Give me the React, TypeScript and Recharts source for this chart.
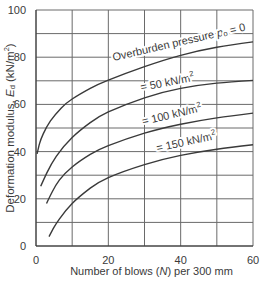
import React from "react";
import {
  LineChart,
  Line,
  XAxis,
  YAxis,
  CartesianGrid,
  ReferenceDot,
  Label,
} from "recharts";

type Pt = { n: number; e: number };

// Deformation modulus vs. blow count, one curve per overburden pressure
const curveP0: Pt[] = [
  { n: 0.3, e: 39 }, { n: 1, e: 43.5 }, { n: 2, e: 47.5 }, { n: 4, e: 53 },
  { n: 7, e: 58.5 }, { n: 10, e: 62.3 }, { n: 15, e: 66.8 }, { n: 20, e: 70.3 },
  { n: 30, e: 76 }, { n: 40, e: 80.8 }, { n: 50, e: 84.2 }, { n: 60, e: 86.5 },
];
const curveP50: Pt[] = [
  { n: 1.3, e: 25.3 }, { n: 3, e: 31 }, { n: 5.6, e: 38 }, { n: 10, e: 46 },
  { n: 15, e: 52.3 }, { n: 20, e: 56.8 }, { n: 30, e: 62.8 }, { n: 40, e: 66.8 },
  { n: 50, e: 69 }, { n: 60, e: 70.2 },
];
const curveP100: Pt[] = [
  { n: 2.9, e: 18 }, { n: 4.5, e: 23 }, { n: 6.5, e: 28 }, { n: 10, e: 33.5 },
  { n: 15, e: 38.8 }, { n: 20, e: 42.5 }, { n: 30, e: 47.8 }, { n: 40, e: 51.6 },
  { n: 50, e: 54.3 }, { n: 60, e: 56.3 },
];
const curveP150: Pt[] = [
  { n: 3.6, e: 4 }, { n: 5, e: 8 }, { n: 6.5, e: 11.5 }, { n: 10, e: 18 },
  { n: 15, e: 24.5 }, { n: 20, e: 29 }, { n: 30, e: 34.5 }, { n: 40, e: 38.4 },
  { n: 50, e: 41 }, { n: 60, e: 42.9 },
];

const xTicks = [0, 10, 20, 30, 40, 50, 60];
const yTicks = [0, 10, 20, 30, 40, 50, 60, 70, 80, 90, 100];

// curve captions: anchor (n, e), rotation, and which text
const captions = [
  { n: 39.5, e: 86.5, angle: -13, kind: "p0" },
  { n: 36.3, e: 69.5, angle: -11, kind: "50" },
  { n: 37.5, e: 55.8, angle: -13, kind: "100" },
  { n: 41.5, e: 44.3, angle: -12, kind: "150" },
];

const FONT = "'Liberation Sans', Arial, sans-serif";
const INK = "#3a3a3a";
const series = [curveP0, curveP50, curveP100, curveP150];

function captionContent(kind: string, angle: number) {
  return (props: any) => {
    const vb = props.viewBox || {};
    const x = (vb.x ?? 0) + (vb.width ?? 0) / 2;
    const y = (vb.y ?? 0) + (vb.height ?? 0) / 2;
    const common = {
      x,
      y,
      textAnchor: "middle" as const,
      dominantBaseline: "central" as const,
      fontFamily: FONT,
      fontSize: 11,
      fill: INK,
      transform: `rotate(${angle}, ${x}, ${y})`,
      stroke: "#fff",
      strokeWidth: 4,
      paintOrder: "stroke" as const,
      strokeLinejoin: "round" as const,
    };
    if (kind === "p0") {
      return (
        <text {...common}>
          Overburden pressure{" "}
          <tspan fontStyle="italic">p</tspan>
          <tspan fontSize={7.5} dy={2}>o</tspan>
          <tspan dy={-2}> = 0</tspan>
        </text>
      );
    }
    return (
      <text {...common}>
        = {kind} kN/m
        <tspan fontSize={7.5} dy={-4}>2</tspan>
      </text>
    );
  };
}

const yLabel = (props: any) => {
  const vb = props.viewBox || {};
  const cx = 10;
  const cy = (vb.y ?? 0) + (vb.height ?? 0) / 2;
  return (
    <text
      x={cx}
      y={cy}
      transform={`rotate(-90, ${cx}, ${cy})`}
      textAnchor="middle"
      dominantBaseline="central"
      fontFamily={FONT}
      fontSize={11.5}
      fill={INK}
    >
      Deformation modulus, <tspan fontStyle="italic">E</tspan>
      <tspan fontSize={7.5} dy={2}>d</tspan>
      <tspan dy={-2}> (kN/m</tspan>
      <tspan fontSize={7.5} dy={-4}>2</tspan>
      <tspan dy={4}>)</tspan>
    </text>
  );
};

const xLabel = (props: any) => {
  const vb = props.viewBox || {};
  const cx = (vb.x ?? 0) + (vb.width ?? 0) / 2 + 7;
  return (
    <text
      x={cx}
      y={271}
      textAnchor="middle"
      dominantBaseline="central"
      fontFamily={FONT}
      fontSize={11}
      fill={INK}
    >
      Number of blows (<tspan fontStyle="italic">N</tspan>) per 300 mm
    </text>
  );
};

export default function App() {
  return (
    <div style={{ position: "absolute", left: 0, top: 0, background: "#fff" }}>
      <LineChart
        width={260}
        height={284}
        margin={{ top: 10, right: 7, left: 0, bottom: 0 }}
      >
        <CartesianGrid stroke="#6a6a6a" strokeWidth={1} />
        <XAxis
          type="number"
          dataKey="n"
          domain={[0, 60]}
          ticks={xTicks}
          interval={0}
          tickFormatter={(v: number) => (v % 20 === 0 ? String(v) : "")}
          tickLine={false}
          axisLine={{ stroke: "#333" }}
          tickMargin={4}
          height={38}
          tick={{ fontFamily: FONT, fontSize: 11, fill: INK }}
        >
          <Label content={xLabel} />
        </XAxis>
        <YAxis
          type="number"
          dataKey="e"
          domain={[0, 100]}
          ticks={yTicks}
          interval={0}
          tickFormatter={(v: number) => (v % 20 === 0 ? String(v) : "")}
          tickLine={false}
          axisLine={{ stroke: "#333" }}
          tickMargin={4}
          width={36}
          tick={{ fontFamily: FONT, fontSize: 11, fill: INK }}
        >
          <Label content={yLabel} />
        </YAxis>
        {series.map((d, i) => (
          <Line
            key={i}
            data={d}
            dataKey="e"
            type="natural"
            stroke="#3a3a3a"
            strokeWidth={1.4}
            dot={false}
            activeDot={false}
            isAnimationActive={false}
          />
        ))}
        {captions.map((c, i) => (
          <ReferenceDot
            key={i}
            x={c.n}
            y={c.e}
            r={1}
            fill="none"
            stroke="none"
            label={{ content: captionContent(c.kind, c.angle) }}
          />
        ))}
      </LineChart>
    </div>
  );
}
